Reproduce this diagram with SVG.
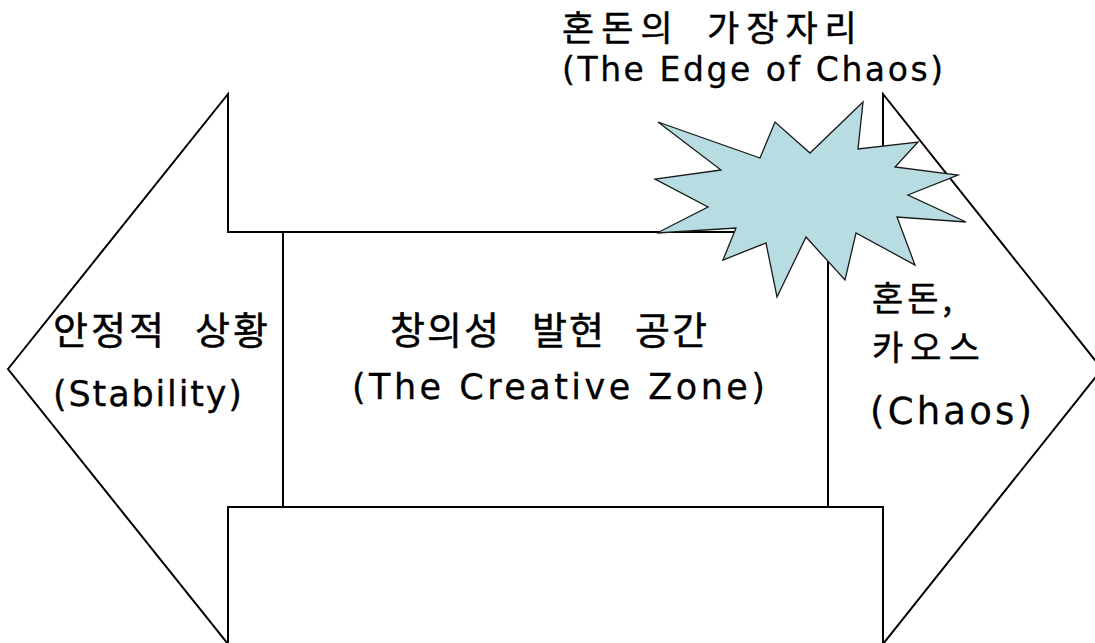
<svg xmlns="http://www.w3.org/2000/svg" width="1095" height="643" viewBox="0 0 1095 643">
  <style>
    .shape { fill: none; stroke: #000; stroke-width: 2; stroke-linejoin: miter; }
    .burst { fill: #B7DDE2; stroke: #1a1a1a; stroke-width: 1.3; stroke-linejoin: miter; }
    .ko { font-family: "Noto Sans CJK KR", "Liberation Sans", sans-serif; font-size: 38px; fill: #000; stroke: #000; stroke-width: 0.5; letter-spacing: 2px; }
    .en { font-family: "DejaVu Sans", "Liberation Sans", sans-serif; font-size: 35px; fill: #000; stroke: #000; stroke-width: 0.3; }
  </style>
  <rect x="0" y="0" width="1095" height="643" fill="#fff"/>
  <g id="left-arrow">
    <polygon class="shape" points="8,369 228,94 228,232 828,232 828,507 228,507 228,644"/>
  </g>
  <g id="right-arrow">
    <polygon class="shape" points="1102,369 883,94 883,232 283,232 283,507 883,507 883,644"/>
  </g>
  <g id="connectors"></g>
  <g id="edge-of-chaos-burst">
    <polygon class="burst" points="658,122 760,158 775,122 810,153 863,102 858,149 918,142 895,167 958,175 908,195 966,222 897,217 915,265 856,233 845,280 806,237 777,297 766,243 723,260 736,228 657,233 708,207 655,179 721,170"/>
  </g>
  <g id="label-edge">
    <text class="ko" y="41" style="font-size:35px;letter-spacing:7px"><tspan x="562">혼돈의</tspan><tspan x="707">가장자리</tspan></text>
    <text class="en" x="562" y="81" style="font-size:33px" textLength="381" lengthAdjust="spacing">(The Edge of Chaos)</text>
  </g>
  <g id="label-stability">
    <text class="ko" y="344" style="letter-spacing:3px"><tspan x="53">안정적</tspan><tspan x="195">상황</tspan></text>
    <text class="en" x="53" y="406" textLength="189" lengthAdjust="spacing">(Stability)</text>
  </g>
  <g id="label-creative">
    <text class="ko" y="344"><tspan x="390">창의성</tspan><tspan x="532">발현</tspan><tspan x="635">공간</tspan></text>
    <text class="en" x="352" y="399" textLength="413" lengthAdjust="spacing">(The Creative Zone)</text>
  </g>
  <g id="label-chaos">
    <text class="ko" x="872" y="311" style="font-size:34px;letter-spacing:4px">혼돈,</text>
    <text class="ko" x="872" y="360" style="font-size:34px;letter-spacing:7px">카오스</text>
    <text class="en" x="870" y="424" style="font-size:37px" textLength="162" lengthAdjust="spacing">(Chaos)</text>
  </g>
</svg>
